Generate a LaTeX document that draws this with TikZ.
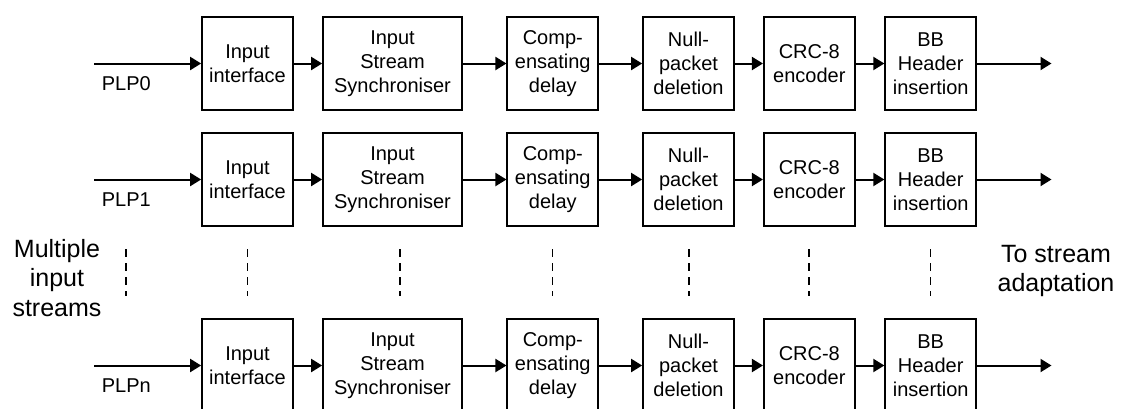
\documentclass[tikz,border=0pt]{standalone}
\usepackage{fontspec}
\setmainfont{Liberation Sans}
\usetikzlibrary{arrows.meta}

\tikzset{every picture/.style={line width=1.7pt}}
\tikzset{
	block/.style={draw, align=center, inner sep=0pt, minimum height=93pt, font=\fontsize{20}{24}\selectfont},
	narrow/.style={block, minimum width=91pt},
	wide/.style={block, minimum width=139pt},
	flow/.style={line width=2pt, -{Triangle[length=11pt,width=13pt]}},
	gap/.style={line width=1.8pt, dash pattern=on 8pt off 6pt},
	plptext/.style={anchor=west, inner sep=0pt, font=\fontsize{20}{24}\selectfont},
	sidetext/.style={align=center, inner sep=0pt, font=\fontsize{25}{29.5}\selectfont}}

\begin{document}
\begin{tikzpicture}[x=1pt,y=1pt,yscale=-1,xscale=1]
	\useasboundingbox (0,0) rectangle (1125,408);

	% Row PLP0
	\coordinate (in0) at (94,63.5);
	\node[narrow] (ii0) at (247.5,63.5) {Input\\interface};
	\node[wide] (iss0) at (392.5,63.5) {Input\\Stream\\Synchroniser};
	\node[narrow] (cd0) at (552.8,63.5) {Comp-\\ensating\\delay};
	\node[narrow] (npd0) at (688.5,63.5) {Null-\\packet\\deletion};
	\node[narrow] (crc0) at (809.3,63.5) {CRC-8\\encoder};
	\node[narrow] (bbh0) at (930.7,63.5) {BB\\Header\\insertion};
	\coordinate (out0) at (1051.5,63.5);
	\draw[flow] (in0) -- (ii0);
	\draw[flow] (ii0) -- (iss0);
	\draw[flow] (iss0) -- (cd0);
	\draw[flow] (cd0) -- (npd0);
	\draw[flow] (npd0) -- (crc0);
	\draw[flow] (crc0) -- (bbh0);
	\draw[flow] (bbh0) -- (out0);
	\node[plptext] (plp0) at (101,83.5) {PLP0};

	% Row PLP1
	\coordinate (in1) at (94,179.5);
	\node[narrow] (ii1) at (247.5,179.5) {Input\\interface};
	\node[wide] (iss1) at (392.5,179.5) {Input\\Stream\\Synchroniser};
	\node[narrow] (cd1) at (552.8,179.5) {Comp-\\ensating\\delay};
	\node[narrow] (npd1) at (688.5,179.5) {Null-\\packet\\deletion};
	\node[narrow] (crc1) at (809.3,179.5) {CRC-8\\encoder};
	\node[narrow] (bbh1) at (930.7,179.5) {BB\\Header\\insertion};
	\coordinate (out1) at (1051.5,179.5);
	\draw[flow] (in1) -- (ii1);
	\draw[flow] (ii1) -- (iss1);
	\draw[flow] (iss1) -- (cd1);
	\draw[flow] (cd1) -- (npd1);
	\draw[flow] (npd1) -- (crc1);
	\draw[flow] (crc1) -- (bbh1);
	\draw[flow] (bbh1) -- (out1);
	\node[plptext] (plp1) at (101,200) {PLP1};

	% Row PLPn
	\coordinate (inn) at (94,365.5);
	\node[narrow] (iin) at (247.5,365.5) {Input\\interface};
	\node[wide] (issn) at (392.5,365.5) {Input\\Stream\\Synchroniser};
	\node[narrow] (cdn) at (552.8,365.5) {Comp-\\ensating\\delay};
	\node[narrow] (npdn) at (688.5,365.5) {Null-\\packet\\deletion};
	\node[narrow] (crcn) at (809.3,365.5) {CRC-8\\encoder};
	\node[narrow] (bbhn) at (930.7,365.5) {BB\\Header\\insertion};
	\coordinate (outn) at (1051.5,365.5);
	\draw[flow] (inn) -- (iin);
	\draw[flow] (iin) -- (issn);
	\draw[flow] (issn) -- (cdn);
	\draw[flow] (cdn) -- (npdn);
	\draw[flow] (npdn) -- (crcn);
	\draw[flow] (crcn) -- (bbhn);
	\draw[flow] (bbhn) -- (outn);
	\node[plptext] (plpn) at (101,385.5) {PLPn};

	% Dotted gaps between rows
	\draw[gap] (125.7,249) -- (125.7,296);
	\draw[gap] (247.5,249) -- (247.5,296);
	\draw[gap] (400,249) -- (400,296);
	\draw[gap] (552.5,249) -- (552.5,296);
	\draw[gap] (688.6,249) -- (688.6,296);
	\draw[gap] (809.3,249) -- (809.3,296);
	\draw[gap] (930.4,249) -- (930.4,296);

	% Text Node
	\node[sidetext] (multi) at (57,278) {Multiple\\input\\streams};
	% Text Node
	\node[sidetext] (toadapt) at (1056,271) {To stream\\adaptation};
\end{tikzpicture}
\end{document}
